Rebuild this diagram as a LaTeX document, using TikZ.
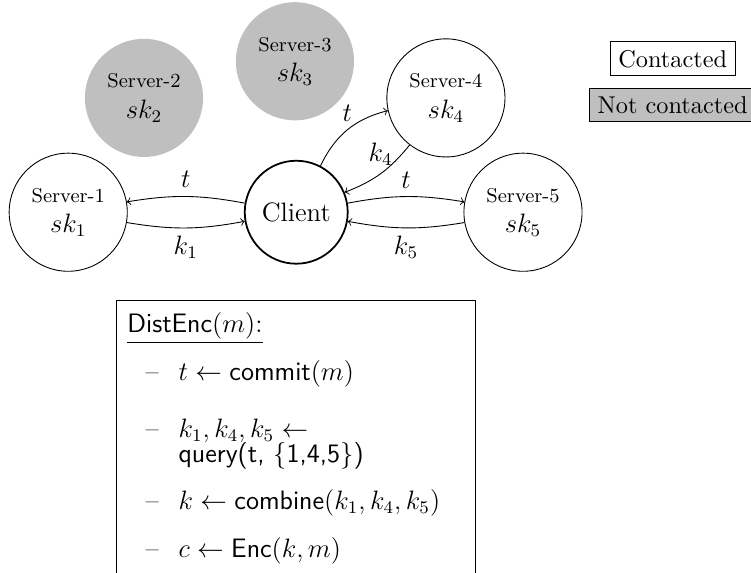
\documentclass[11pt,tikz,border=0pt]{standalone}

\begin{document}
\begin{tikzpicture}[
    server/.style={circle, draw, minimum size=1.87cm, inner sep=0pt, align=center},
    silent/.style={circle, fill=gray!50, minimum size=1.87cm, inner sep=0pt, align=center},
    lbl/.style={font=\large},
    line/.style={anchor=base west, inner sep=0pt, font=\large}
]

\useasboundingbox (0,0) rectangle (11.89,-9.07);

% =========================================================
% Servers and client
% =========================================================

\node[server] (s1) at (1.08,-3.36) {\footnotesize Server-1\\ \large $sk_1$};
\node[silent] (s2) at (2.28,-1.55) {\footnotesize Server-2\\ \large $sk_2$};
\node[silent] (s3) at (4.67,-0.97) {\footnotesize Server-3\\ \large $sk_3$};
\node[server] (s4) at (7.06,-1.55) {\footnotesize Server-4\\ \large $sk_4$};
\node[server] (s5) at (8.28,-3.36) {\footnotesize Server-5\\ \large $sk_5$};

\node[circle, draw, thick, minimum size=1.63cm, inner sep=0pt, font=\large] (client) at (4.69,-3.36) {Client};


% =========================================================
% Messages
% =========================================================

\draw[->] (client) to[bend right=10] node[lbl, above] {$t$} (s1);
\draw[->] (s1) to[bend right=10] node[lbl, below] {$k_1$} (client);

\draw[->] (client) to[bend left=25] node[lbl, above] {$t$} (s4);
\draw[->] (s4) to[bend left=15] node[lbl, above] {$k_4$} (client);

\draw[->] (client) to[bend left=10] node[lbl, above] {$t$} (s5);
\draw[->] (s5) to[bend left=10] node[lbl, below] {$k_5$} (client);


% =========================================================
% Legend
% =========================================================

\node[draw] (contacted) at (10.65,-0.93) {Contacted};
\node[draw, fill=gray!50] (notcontacted) at (10.65,-1.66) {Not contacted};


% =========================================================
% DistEnc(m)
% =========================================================

\draw (1.84,-9.07) |- (7.52,-4.76) -- (7.52,-9.07);

\node[line] (title) at (2.01,-5.26) {\underline{$\mathsf{DistEnc}(m)$:}};

\node[line] (d1) at (2.30,-6.03) {\textendash};
\node[line] (i1) at (2.82,-6.03) {$t \leftarrow \textsf{commit}(m)$};

\node[line] (d2) at (2.30,-6.92) {\textendash};
\node[line] (i2) at (2.82,-6.92) {$k_1, k_4, k_5 \leftarrow$};
\node[line] (i2b) at (2.82,-7.33) {\textsf{query(t, $\{$1,4,5$\}$)}};

\node[line] (d3) at (2.30,-8.07) {\textendash};
\node[line] (i3) at (2.82,-8.07) {$k \leftarrow \textsf{combine}(k_1, k_4, k_5)$};

\node[line] (d4) at (2.30,-8.82) {\textendash};
\node[line] (i4) at (2.82,-8.82) {$c \leftarrow \textsf{Enc}(k, m)$};

\end{tikzpicture}
\end{document}
